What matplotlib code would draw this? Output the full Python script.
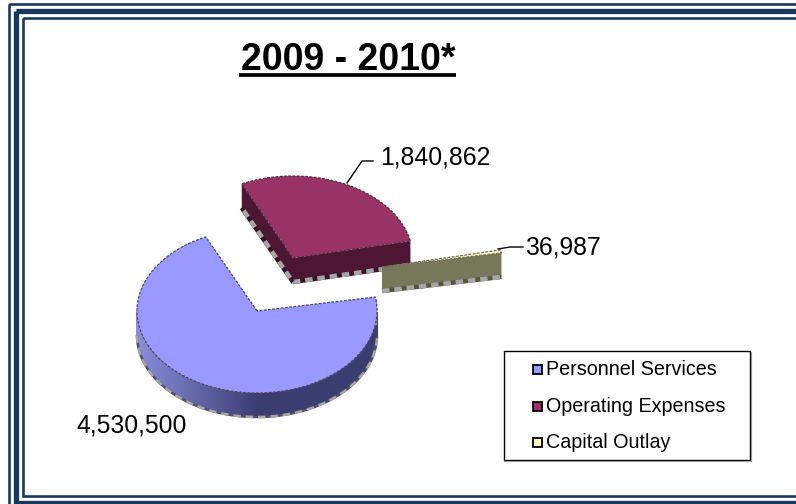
#!/usr/bin/env python3
"""Exploded 3D look pie, budget 2009 - 2010."""

import matplotlib
matplotlib.use('Agg')
import matplotlib.pyplot as plt
import matplotlib.patches as mpatches
from matplotlib.colors import to_rgb
import numpy as np

plt.rcParams['font.family'] = ['Liberation Sans', 'DejaVu Sans']

categories = ['Personnel Services', 'Operating Expenses', 'Capital Outlay']
values = [4530500, 1840862, 36987]
value_labels = ['4,530,500', '1,840,862', '36,987']
title = '2009 - 2010*'

NAVY = '#17375e'
RX, RY, DEPTH = 120, 82, 24
START = 9.8  # slices run clockwise from here
CENTERS = [(257, 311), (293, 258), (382, 267)]
RADII = [1.0, 1.0, 1.01]
TOPS = ['#9999ff', '#993366', '#ffffcc']
SIDES = ['#3a3d70', '#4d1733', '#77775a']
OUTLINES = ['#4a4a60', '#4d3040', '#70705a']


def arc(cx, cy, t0, t1, n=240, k=1.0):
    t = np.radians(np.linspace(t0, t1, n))
    return cx + k * RX * np.cos(t), cy - k * RY * np.sin(t)


def rough_edge(ax, x, y, dark, lw=3.2, z=2.5):
    # the jagged grey and dark squares under the walls
    ax.plot(x, y, color=dark, lw=lw, solid_capstyle='butt', zorder=z)
    ax.plot(x, y, color='#a6a6a6', lw=lw, ls=(0, (5.4 / lw, 3.5 / lw)),
            dash_capstyle='butt', zorder=z + 0.1)


def draw_slice(ax, idx, t0, t1):
    cx, cy = CENTERS[idx]
    top, side = TOPS[idx], SIDES[idx]
    x, y = arc(cx, cy, t0, t1, k=RADII[idx])

    if idx == 0:
        # rim only, with the light to dark shading on the left
        keep = y >= cy
        xr, yr = x[keep], y[keep]
        rough_edge(ax, [x[-1] + 1, x[-1] + 1], [y[-1] + 2, cy + 14], '#909090', lw=1.6)
        for i in range(len(xr) - 1):
            f = np.clip((xr[i] - (cx - RX)) / (RX * 1.0), 0, 1)
            c = (1 - f) * np.array(to_rgb('#8a8edd')) + f * np.array(to_rgb(side))
            ax.fill([xr[i], xr[i + 1], xr[i + 1], xr[i]],
                    [yr[i], yr[i + 1], yr[i + 1] + DEPTH, yr[i] + DEPTH],
                    color=tuple(c), lw=1, zorder=2)
        rough_edge(ax, xr, yr + DEPTH, '#50506a', lw=1.8)
    else:
        # cut faces only, the rim points away from us
        z = 2 + idx
        ax.fill([x[0], cx, cx, x[0]], [y[0], cy, cy + DEPTH, y[0] + DEPTH],
                color=side, lw=0, zorder=z)
        ax.fill([x[-1], cx, cx, x[-1]], [y[-1], cy, cy + DEPTH, y[-1] + DEPTH],
                color=side, lw=0, zorder=z)
        if idx == 1:
            rough_edge(ax, [x[0], cx, x[-1]],
                       [y[0] + DEPTH, cy + DEPTH, y[-1] + DEPTH], '#3a1226', z=z + 0.2)
        else:
            rough_edge(ax, [cx, x[0]], [cy + DEPTH, y[0] + DEPTH], '#55553f', z=z + 0.2)

    px = np.r_[cx, x, cx]
    py = np.r_[cy, y, cy]
    ax.fill(px, py, color=top, lw=0, zorder=6)
    ax.plot(px, py, color=OUTLINES[idx], lw=0.9, ls=(0, (2.2, 1.2)), zorder=7)


fig = plt.figure(figsize=(7.96, 5.04), dpi=100, facecolor='white')
ax = fig.add_axes([0, 0, 1, 1])
ax.set_xlim(0, 796)
ax.set_ylim(504, 0)
ax.axis('off')

# triple frame, the right side runs off the picture
for (x0, y0, x1, y1), w in [((9, 4.3, 900, 600), 2.6),
                            ((15.5, 11.3, 900, 502.5), 5.3),
                            ((22.7, 18, 900, 496), 2.6)]:
    ax.add_patch(mpatches.Rectangle((x0, y0), x1 - x0, y1 - y0, fill=False,
                                    ec=NAVY, lw=w * 0.72, joinstyle='miter', zorder=1))

# slice angles from the values
sweep = np.array(values) / sum(values) * 360
t = START
for i in [0, 1, 2]:
    t0 = t - sweep[i]
    draw_slice(ax, i, t0, t)
    t = t0

ax.text(348, 70, title, fontsize=27, fontweight='bold', ha='center', va='baseline')
ax.plot([239, 456], [75, 75], color='black', lw=2.7, solid_capstyle='butt', zorder=8)

ax.text(380, 164, value_labels[1], fontsize=17.8, va='baseline')
ax.plot([347, 362, 373], [183, 161, 161], color='black', lw=1, zorder=8)
ax.text(525, 255, value_labels[2], fontsize=17.8, va='baseline')
ax.plot([498, 510, 523], [249, 247, 247], color='black', lw=1, zorder=8)
ax.text(76, 433, value_labels[0], fontsize=17.8, va='baseline')

# legend
ax.add_patch(mpatches.Rectangle((503.5, 351), 246, 109, fc='white', ec='black', lw=1, zorder=8))
ax.plot([750.5, 750.5], [352, 461], color='#999999', lw=0.8, zorder=8)
ax.plot([504, 750.5], [461, 461], color='#999999', lw=0.8, zorder=8)
for name, color, y in zip(categories, TOPS, [369, 406, 442]):
    ax.add_patch(mpatches.Rectangle((533, y - 4.5), 9, 9, fc=color, ec='black', lw=1.3, zorder=9))
    ax.text(546, y + 6, name, fontsize=14.2, va='baseline', zorder=9)

fig.savefig('out.png', dpi=100, facecolor='white')
